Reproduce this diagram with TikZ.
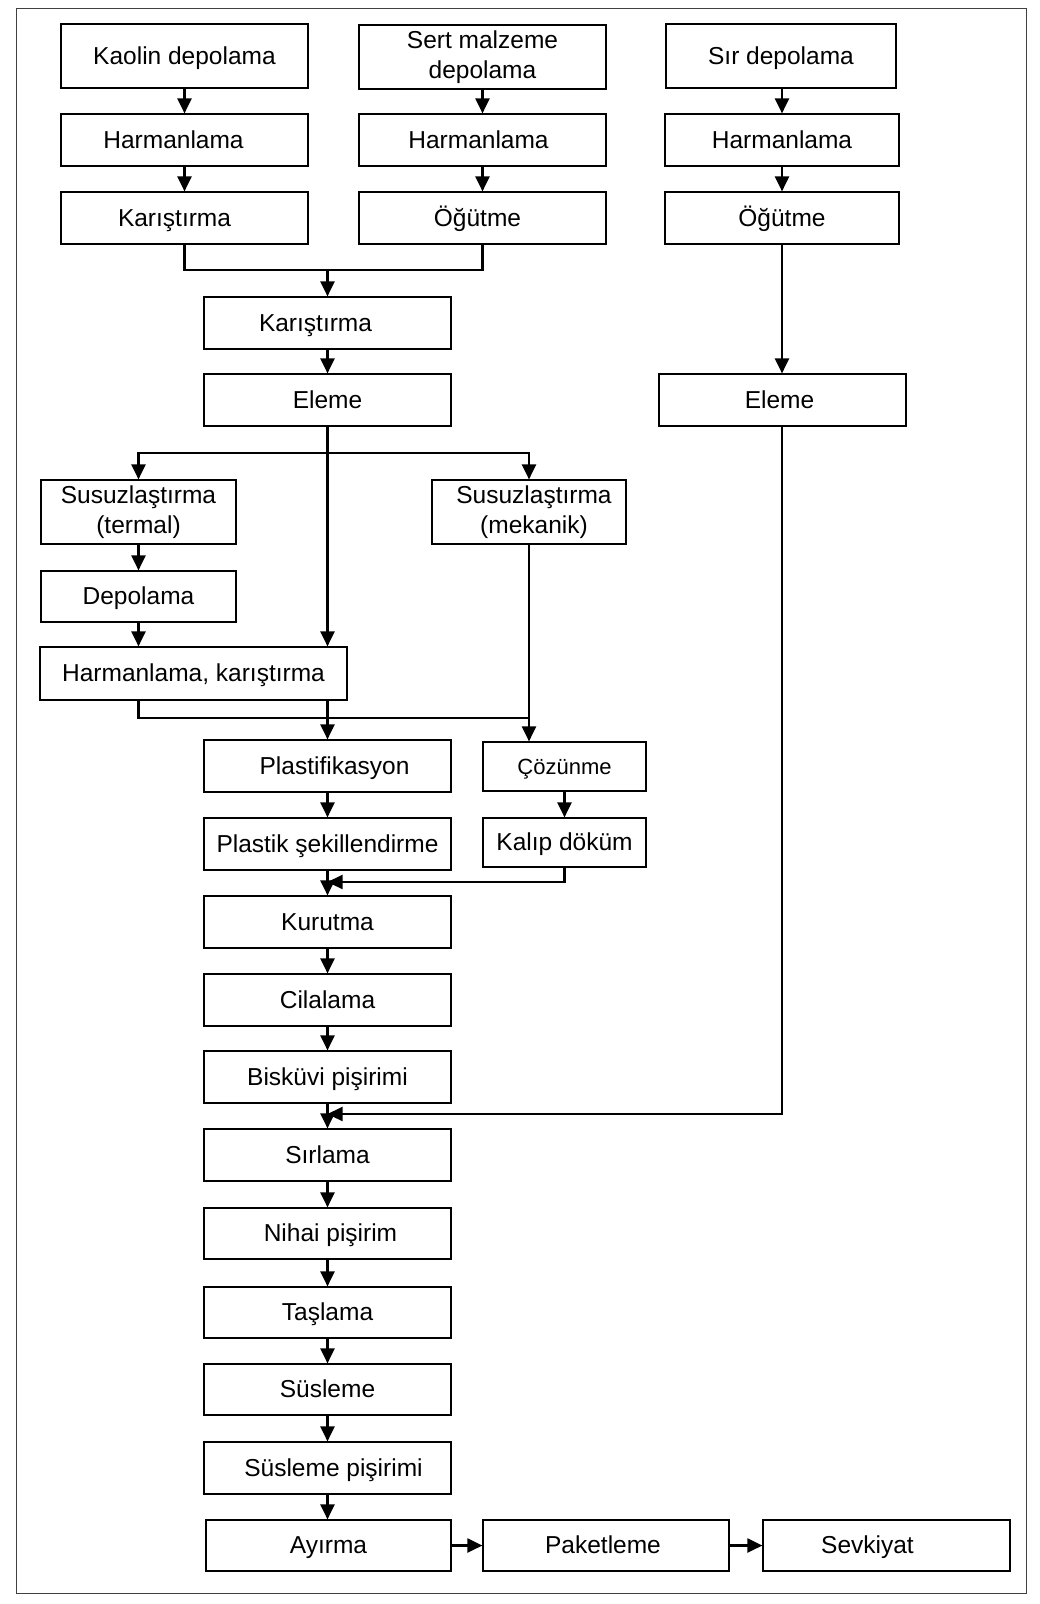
\documentclass[tikz,border=0pt]{standalone}
\usepackage{fontspec}
\setmainfont{Liberation Sans}
\usetikzlibrary{arrows.meta}
\begin{document}
\begin{tikzpicture}[x=1pt,y=-1pt,
 mbox/.style={draw=black, line width=1.2pt, minimum width=247pt, minimum height=52pt, inner sep=0pt, align=center, font=\fontsize{24.5}{29.5}\selectfont},
 box/.style={mbox, text height=21pt, text depth=5pt},
 arr/.style={line width=2.2pt, -{Triangle[length=15pt,width=14pt]}},
 ln/.style={line width=2.2pt}]
\useasboundingbox[fill=white] (0,0) rectangle (1039,1604);
\draw[line width=1pt, draw=black!75] (16,8) rectangle (1026,1593);
% left column
\node[box, minimum height=64pt] (kaolin) at (184.5,56) {Kaolin depolama};
\node[box] (harmL) at (184.5,140) {\hspace*{-22pt}Harmanlama};
\node[box] (karL) at (184.5,218) {\hspace*{-20pt}Karıştırma};
% middle column
\node[mbox, minimum height=64pt] (sert) at (482.5,57) {Sert malzeme\\depolama};
\node[box] (harmM) at (482.5,140) {\hspace*{-8pt}Harmanlama};
\node[box] (ogutM) at (482.5,218) {\hspace*{-10pt}Öğütme};
% right column
\node[box, minimum height=64pt, minimum width=230pt] (sir) at (781,56) {Sır depolama};
\node[box, minimum width=234pt] (harmR) at (782,140) {Harmanlama};
\node[box, minimum width=234pt] (ogutR) at (782,218) {Öğütme};
\node[box] (eleR) at (782.5,400) {\hspace*{-6pt}Eleme};
% centre column
\node[box] (kar2) at (327.5,323) {\hspace*{-24pt}Karıştırma};
\node[box] (eleM) at (327.5,400) {Eleme};
\node[mbox, minimum width=195pt, minimum height=64pt] (susT) at (138.5,512) {Susuzlaştırma\\(termal)};
\node[mbox, minimum width=194pt, minimum height=64pt] (susM) at (529,512) {\hspace*{10pt}Susuzlaştırma\\\hspace*{10pt}(mekanik)};
\node[box, minimum width=195pt, minimum height=51pt] (depo) at (138.5,596.5) {Depolama};
\node[box, minimum width=307pt, minimum height=53pt] (hk) at (193.5,673.5) {Harmanlama, karıştırma};
\node[box] (plast) at (327.5,766) {\hspace*{14pt}Plastifikasyon};
\node[box, minimum width=163pt, minimum height=49pt] (coz) at (564.5,766.5) {\fontsize{22}{26}\selectfont Çözünme};
\node[box] (plsek) at (327.5,844) {Plastik şekillendirme};
\node[box, minimum width=163pt, minimum height=49pt] (kalip) at (564.5,842.5) {Kalıp döküm};
\node[box] (kurut) at (327.5,922) {Kurutma};
\node[box] (cila) at (327.5,1000) {Cilalama};
\node[box] (bisk) at (327.5,1077) {Bisküvi pişirimi};
\node[box] (sirl) at (327.5,1155) {Sırlama};
\node[box, minimum height=51pt] (nihai) at (327.5,1233.5) {\hspace*{6pt}Nihai pişirim};
\node[box, minimum height=51pt] (tasl) at (327.5,1312.5) {Taşlama};
\node[box, minimum height=51pt] (susl) at (327.5,1389.5) {Süsleme};
\node[box] (suslp) at (327.5,1468) {\hspace*{12pt}Süsleme pişirimi};
\node[box, minimum width=245pt, minimum height=51pt] (ayir) at (328.5,1545.5) {Ayırma};
\node[box, minimum width=246pt, minimum height=51pt] (paket) at (606,1545.5) {\hspace*{-6pt}Paketleme};
\node[box, minimum height=51pt] (sevk) at (886.5,1545.5) {\hspace*{-38pt}Sevkiyat};
% helper coordinates
\coordinate (m1) at (327.5,270);
\coordinate (b1) at (327.5,453);
\coordinate (m2) at (529,718);
\coordinate (k1) at (327.5,882);
\coordinate (g1) at (327.5,1114);
% connectors
\draw[arr] (kaolin) -- (harmL);
\draw[arr] (harmL) -- (karL);
\draw[arr] (sert) -- (harmM);
\draw[arr] (harmM) -- (ogutM);
\draw[arr] (sir.south -| harmR.north) -- (harmR.north);
\draw[arr] (harmR) -- (ogutR);
\draw[arr] (ogutR.south) -- (eleR.north -| ogutR.south);
\draw[ln] (karL.south) |- (m1);
\draw[ln] (ogutM.south) |- (m1);
\draw[arr] (m1) -- (kar2.north);
\draw[arr] (kar2) -- (eleM);
\draw[ln] (eleM.south) -- (b1);
\draw[arr] (b1) -| (susT.north);
\draw[arr] (b1) -| (susM.north);
\draw[arr] (b1) -- (hk.north -| b1);
\draw[arr] (susT) -- (depo);
\draw[arr] (depo.south) -- (hk.north -| depo.south);
\draw[arr] (hk.south -| plast.north) -- (plast.north);
\draw[ln] (hk.south -| susT.south) |- (m2);
\draw[arr] (susM.south) -- (coz.north -| susM.south);
\draw[arr] (plast) -- (plsek);
\draw[arr] (coz.south -| kalip.north) -- (kalip.north);
\draw[arr] (plsek) -- (kurut);
\draw[arr] (kalip.south) |- (k1);
\draw[arr] (kurut) -- (cila);
\draw[arr] (cila) -- (bisk);
\draw[arr] (bisk) -- (sirl);
\draw[arr] (eleR.south -| ogutR.south) |- (g1);
\draw[arr] (sirl) -- (nihai);
\draw[arr] (nihai) -- (tasl);
\draw[arr] (tasl) -- (susl);
\draw[arr] (susl) -- (suslp);
\draw[arr] (suslp.south) -- (ayir.north -| suslp.south);
\draw[arr] (ayir) -- (paket);
\draw[arr] (paket) -- (sevk);
\end{tikzpicture}
\end{document}
